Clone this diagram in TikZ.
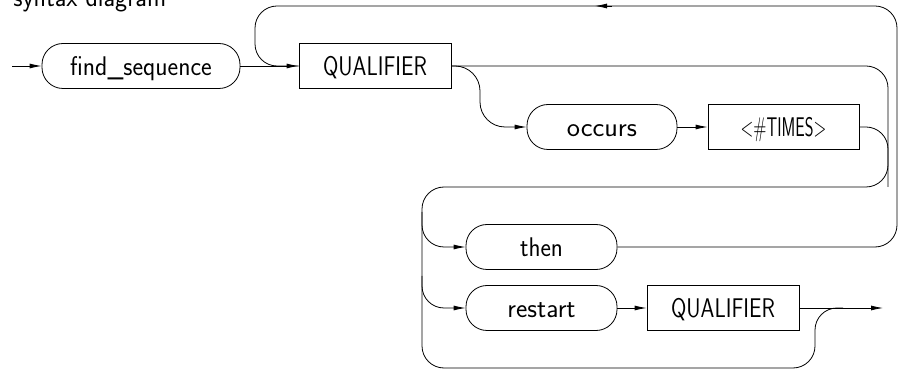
\documentclass[tikz,border=0pt]{standalone}
\usepackage{graphicx}
\usepackage{fontspec}
\newfontfamily\dfont{lmsans17-regular.otf}
\usetikzlibrary{arrows.meta}
\newcommand\sx[2]{\scalebox{#1}[1]{#2}}
\begin{document}
\begin{tikzpicture}[x=1pt,y=1pt,line width=0.8pt,
  arr/.style={-{Latex[length=12pt,width=5pt]}},
  lbl/.style={font=\dfont\fontsize{27pt}{30pt}\selectfont},
  pill/.style={lbl,draw,rounded corners=21pt,minimum height=45pt,inner sep=0pt,text height=18.7pt,text depth=0pt},
  rbox/.style={lbl,draw,minimum height=45pt,inner sep=0pt,text height=18.7pt,text depth=0pt},
  rc/.style={rounded corners=22pt}
]
\useasboundingbox (0,0) rectangle (900,-371);
\node[lbl,anchor=base west,inner sep=0pt] (title) at (13,-7) {\sx{0.95}{syntax diagram}};
\node[pill,minimum width=198pt] (fs) at (141,-66) {\sx{0.94}{find\_sequence}};
\node[rbox,minimum width=152pt] (q1) at (375,-66) {\sx{0.82}{QUALIFIER}};
\node[pill,minimum width=150pt] (oc) at (602,-127) {\sx{1.04}{occurs}};
\node[rbox,minimum width=151pt] (tm) at (783.5,-127) {\sx{0.62}{<\#TIMES>}};
\node[pill,minimum width=151pt] (th) at (541.5,-247) {\sx{0.92}{then}};
\node[pill,minimum width=151pt] (rs) at (541.5,-308) {\sx{1.0}{restart}};
\node[rbox,minimum width=152pt] (q2) at (723,-308) {\sx{0.82}{QUALIFIER}};
\coordinate (in) at (12,-66);
\coordinate (rt) at (897,-6);
\coordinate (lt) at (255,-66);
\coordinate (ta) at (612,-6);
\coordinate (tb) at (595,-6);
\coordinate (c1) at (888,-187);
\coordinate (c2) at (422,-368);
\coordinate (c3) at (815,-308);
\coordinate (c4) at (843,-308);
\coordinate (b1) at (480,-127);
\coordinate (d1) at (422,-212);
\coordinate (d2) at (422,-276);
\coordinate (out) at (883,-308);
\draw[arr] (in) -- (fs.west);
\draw[arr] (fs.east) -- (q1.west);
\draw[rc] (th.east) -| (rt) -| (lt) -- (q1.west);
\draw[arr] (ta) -- (tb);
\draw[rc] (q1.east) -| (c1) -| (c2) -| (c3) -- (c4);
\draw[arr,rounded corners=25pt] (q1.east) -| (b1) -- (oc.west);
\draw[arr] (oc.east) -- (tm.west);
\draw[rc] (tm.east) -| (c1);
\draw[arr,rc] (d1) |- (th.west);
\draw[arr,rc] (d2) |- (rs.west);
\draw[arr] (rs.east) -- (q2.west);
\draw[arr] (q2.east) -- (out);
\end{tikzpicture}
\end{document}
